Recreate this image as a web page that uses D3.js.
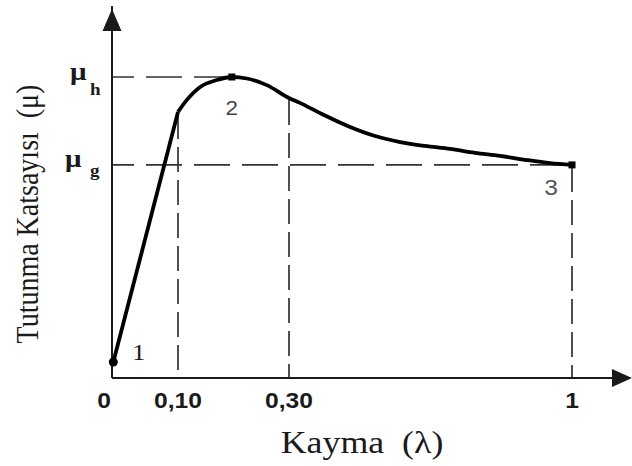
<!DOCTYPE html>
<html>
<head>
<meta charset="utf-8">
<script src="https://cdn.jsdelivr.net/npm/d3@7"></script>
<style>
  html, body { margin: 0; padding: 0; background: #fff; }
  svg { display: block; }
  text { white-space: pre; }
  .serif { font-family: "Liberation Serif", "Times New Roman", "DejaVu Serif", serif; }
  .sans { font-family: "Liberation Sans", Arial, "DejaVu Sans", sans-serif; }
</style>
</head>
<body>
<svg id="chart" width="632" height="466"></svg>
<script>
// ---- data ----
const xTickValues = [0, 0.10, 0.30, 1];
const xTickLabels = ["0", "0,10", "0,30", "1"];
const muLevels = [1.0, 0.708];            // μh, μg
const muSubs = ["h", "g"];
// rising linear segment (point 1 -> knee)
const riseLambda = [0.002, 0.10];
const riseMu = [0.053, 0.884];
// curved part (knee -> peak -> point 3)
const curveLambda = [0.10, 0.116, 0.14, 0.17, 0.197, 0.224, 0.26, 0.30, 0.327, 0.377, 0.451, 0.513, 0.575, 0.636, 0.698, 0.760, 0.822, 0.889, 0.946, 1.0];
const curveMu     = [0.884, 0.924, 0.967, 0.990, 1.0, 0.995, 0.973, 0.930, 0.914, 0.880, 0.834, 0.804, 0.784, 0.771, 0.761, 0.748, 0.738, 0.724, 0.714, 0.708];
const pointLabels = ["1", "2", "3"];
const pointLambda = [0.002, 0.197, 1.0];
const pointMu = [0.053, 1.0, 0.708];

// ---- scales (schematic, piecewise) ----
const x = d3.scaleLinear().domain([0, 0.1, 0.3, 1]).range([112, 178, 289, 572]);
const y = d3.scaleLinear().domain([0, 1]).range([378, 77]);
const SX = 1.12; // horizontal stretch of glyphs in the original

const svg = d3.select("#chart");
const ink = "#1a1a1a";

// ---- dashed guide lines ----
const dashes = svg.append("g").attr("stroke", "#333").attr("stroke-width", 1.7).attr("fill", "none");
dashes.append("line").attr("x1", x(0)).attr("x2", x(pointLambda[1])).attr("y1", y(muLevels[0])).attr("y2", y(muLevels[0]))
  .attr("stroke-dasharray", "36,12").attr("stroke-dashoffset", 14);
dashes.append("line").attr("x1", x(0)).attr("x2", x(1)).attr("y1", y(muLevels[1])).attr("y2", y(muLevels[1]))
  .attr("stroke-dasharray", "36,12").attr("stroke-dashoffset", 14);
[[0.10, riseMu[1]], [0.30, 0.930], [1.0, pointMu[2]]].forEach(([lx, m]) => {
  dashes.append("line").attr("x1", x(lx)).attr("x2", x(lx)).attr("y1", y(m) + 2).attr("y2", y(0))
    .attr("stroke-dasharray", "25,8");
});

// ---- axes with arrows ----
const axes = svg.append("g").attr("stroke", ink).attr("stroke-width", 2);
axes.append("line").attr("x1", x(0)).attr("x2", x(0)).attr("y1", y(0)).attr("y2", 6);
axes.append("line").attr("x1", x(0)).attr("x2", 630).attr("y1", y(0)).attr("y2", y(0));
svg.append("path").attr("fill", ink)
  .attr("d", `M${x(0)},9 L${x(0) - 9.5},31 L${x(0) + 9.5},31 Z`);
svg.append("path").attr("fill", ink)
  .attr("d", `M632,${y(0)} L612,${y(0) - 9} L612,${y(0) + 9} Z`);

// ---- curve ----
const risePts = riseLambda.map((l, i) => [l, riseMu[i]]);
const curvePts = curveLambda.map((l, i) => [l, curveMu[i]]);
svg.append("path").datum(risePts)
  .attr("fill", "none").attr("stroke", "#000").attr("stroke-width", 3.8).attr("stroke-linejoin", "round")
  .attr("d", d3.line().x(d => x(d[0])).y(d => y(d[1])));
svg.append("path").datum(curvePts)
  .attr("fill", "none").attr("stroke", "#000").attr("stroke-width", 3.8).attr("stroke-linejoin", "round")
  .attr("d", d3.line().curve(d3.curveMonotoneX).x(d => x(d[0])).y(d => y(d[1])));

// ---- point markers ----
svg.append("circle").attr("cx", x(pointLambda[0])).attr("cy", y(pointMu[0])).attr("r", 4.5).attr("fill", "#000");
[1, 2].forEach(i => {
  svg.append("rect").attr("x", x(pointLambda[i]) - 3.5).attr("y", y(pointMu[i]) - 3.5)
    .attr("width", 7).attr("height", 7).attr("fill", "#000");
});

// ---- helper for stretched text ----
function stext(px, py, str, opts) {
  const g = svg.append("g").attr("transform", `translate(${px},${py}) scale(${SX},1)`);
  return g.append("text").text(str)
    .attr("class", opts.cls || "serif")
    .attr("font-size", opts.size)
    .attr("font-weight", opts.weight || "normal")
    .attr("fill", opts.fill || ink)
    .attr("text-anchor", opts.anchor || "middle");
}

// ---- x tick labels ----
xTickValues.forEach((v, i) => {
  const off = i === 0 ? -8 : 0;
  stext(x(v) + off, 408, xTickLabels[i], { cls: "sans", size: 22, weight: "bold" });
});

// ---- μ labels ----
const muLeft = [70, 65];
const muBase = [80, 166.5];
const subBase = [95, 176];
muLevels.forEach((m, i) => {
  stext(muLeft[i], muBase[i], "μ", { size: 26, weight: "bold", anchor: "start" });
  stext(90, subBase[i], muSubs[i], { size: 17, weight: "bold", anchor: "start" });
});

// ---- point labels ----
stext(132, 360, pointLabels[0], { size: 24, anchor: "start" });
stext(x(pointLambda[1]), 115, pointLabels[1], { cls: "sans", size: 20, fill: "#444" });
stext(x(pointLambda[2]) - 21, 195, pointLabels[2], { cls: "sans", size: 22, fill: "#555" });

// ---- axis titles ----
stext(362, 453, "Kayma  (λ)", { size: 32 });
svg.append("g").attr("transform", `translate(38,214) scale(${SX},1) rotate(-90)`)
  .append("text").text("Tutunma Katsayısı  (μ)")
  .attr("class", "serif")
  .attr("font-size", 28).attr("fill", ink).attr("text-anchor", "middle");
</script>
</body>
</html>
